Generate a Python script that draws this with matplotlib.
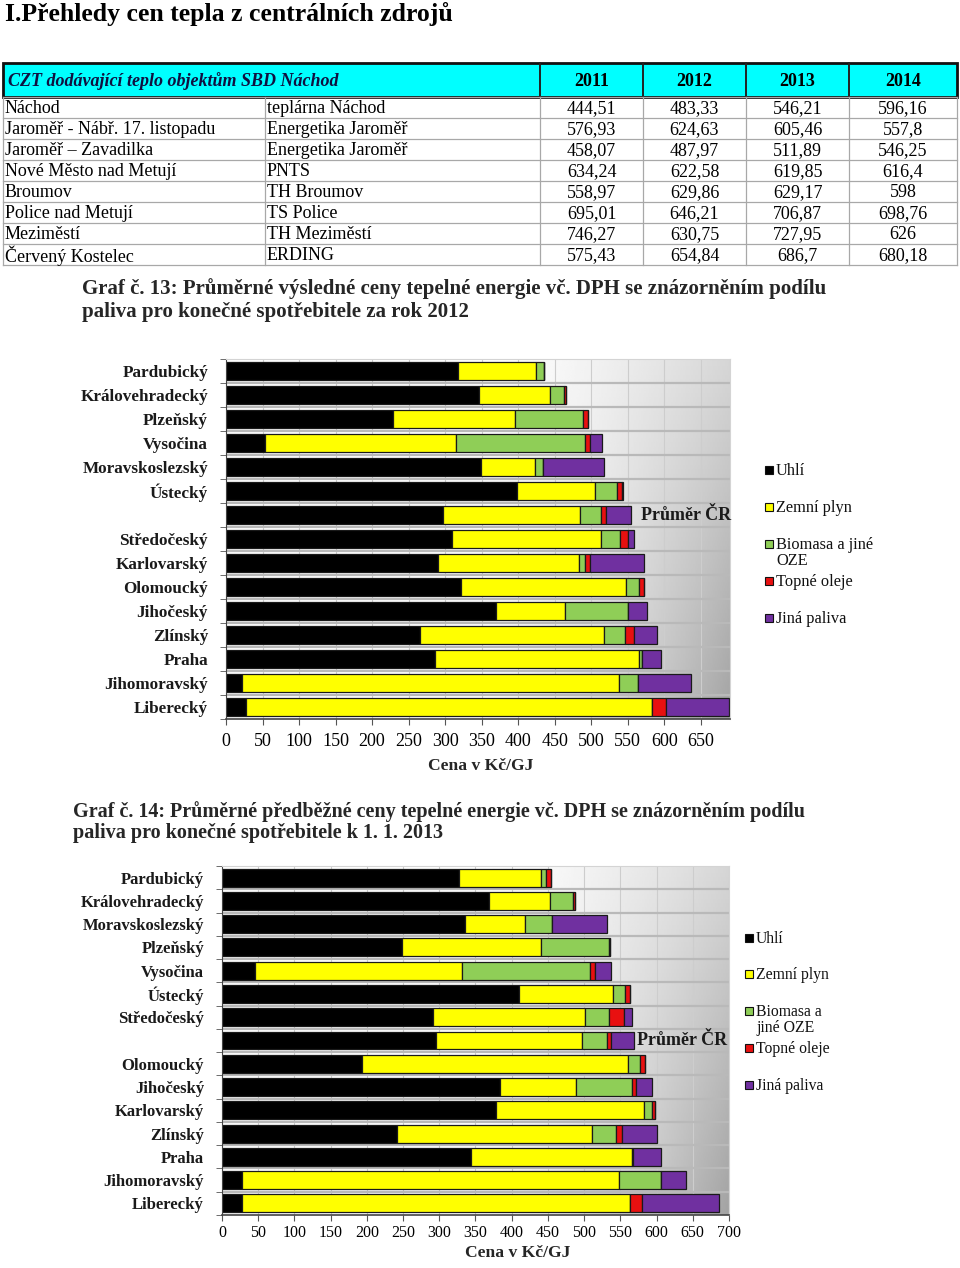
import numpy as np
import matplotlib
matplotlib.use("Agg")
import matplotlib.pyplot as plt
from matplotlib.patches import Rectangle

plt.rcParams["font.family"] = ["Liberation Serif", "DejaVu Serif"]

W, H = 960, 1268

# %% table data
table_places = [
    "Náchod",
    "Jaroměř - Nábř. 17. listopadu",
    "Jaroměř – Zavadilka",
    "Nové Město nad Metují",
    "Broumov",
    "Police nad Metují",
    "Meziměstí",
    "Červený Kostelec",
]
table_sources = [
    "teplárna Náchod",
    "Energetika Jaroměř",
    "Energetika Jaroměř",
    "PNTS",
    "TH Broumov",
    "TS Police",
    "TH Meziměstí",
    "ERDING",
]
table_years = ["2011", "2012", "2013", "2014"]
price_2011 = [444.51, 576.93, 458.07, 634.24, 558.97, 695.01, 746.27, 575.43]
price_2012 = [483.33, 624.63, 487.97, 622.58, 629.86, 646.21, 630.75, 654.84]
price_2013 = [546.21, 605.46, 511.89, 619.85, 629.17, 706.87, 727.95, 686.7]
price_2014 = [596.16, 557.8, 546.25, 616.4, 598, 698.76, 626, 680.18]

# %% chart data (Kč/GJ)
fuels = ["Uhlí", "Zemní plyn", "Biomasa a jiné OZE", "Topné oleje", "Jiná paliva"]
fuel_colors = ["#000000", "#ffff00", "#8fce57", "#e81010", "#7030a0"]

regions_2012 = ["Pardubický", "Královehradecký", "Plzeňský", "Vysočina",
                "Moravskoslezský", "Ústecký", "", "Středočeský", "Karlovarský",
                "Olomoucký", "Jihočeský", "Zlínský", "Praha", "Jihomoravský",
                "Liberecký"]
uhli_2012 = [318, 346, 229, 53, 349, 399, 297, 309, 290, 322, 369, 265, 286, 22, 28]
plyn_2012 = [107, 98, 167, 262, 74, 106, 188, 204, 193, 225, 95, 253, 279, 516, 555]
oze_2012 = [10, 19, 93, 177, 11, 30, 28, 27, 8, 18, 86, 28, 5, 26, 0]
oleje_2012 = [1, 2, 7, 6, 0, 7, 7, 10, 7, 7, 1, 12, 0, 0, 20]
jina_2012 = [0, 1, 0, 17, 83, 2, 34, 9, 74, 0, 26, 32, 25, 73, 86]

regions_2013 = ["Pardubický", "Královehradecký", "Moravskoslezský", "Plzeňský",
                "Vysočina", "Ústecký", "Středočeský", "", "Olomoucký", "Jihočeský",
                "Karlovarský", "Zlínský", "Praha", "Jihomoravský", "Liberecký"]
uhli_2013 = [327, 368, 336, 248, 46, 410, 292, 296, 193, 384, 378, 242, 344, 27, 28]
plyn_2013 = [113, 85, 82, 193, 286, 130, 209, 201, 367, 105, 205, 269, 222, 521, 536]
oze_2013 = [8, 31, 38, 93, 176, 17, 34, 35, 17, 77, 10, 33, 1, 58, 0]
oleje_2013 = [6, 3, 0, 2, 7, 6, 20, 5, 7, 5, 5, 8, 0, 0, 16]
jina_2013 = [0, 0, 76, 0, 22, 0, 11, 32, 0, 22, 0, 49, 39, 34, 106]


def fmt_cz(v):
    return f"{v:g}".replace(".", ",")


def px_axes(fig, left, top, right, bottom):
    return fig.add_axes([left / W, 1 - bottom / H, (right - left) / W, (bottom - top) / H])


def draw_table(page):
    col_x = [3, 265, 540, 643, 746, 849, 957]
    head_top, head_bot = 63, 97
    row_h = 21
    n = len(table_places)
    body_bot = head_bot + n * row_h

    # header
    page.add_patch(Rectangle((col_x[0], head_top), col_x[-1] - col_x[0], head_bot - head_top,
                             facecolor="#00ffff", edgecolor="#111111", lw=2))
    for x in col_x[2:-1]:
        page.plot([x, x], [head_top, head_bot], color="#222222", lw=1.4)
    page.text(8, (head_top + head_bot) / 2 + 1, "CZT dodávající teplo objektům SBD Náchod",
              fontsize=13, fontweight="bold", fontstyle="italic", color="#101040",
              va="center", ha="left")
    for i, yr in enumerate(table_years):
        page.text((col_x[i + 2] + col_x[i + 3]) / 2, (head_top + head_bot) / 2 + 1, yr,
                  fontsize=13, fontweight="bold", va="center", ha="center")

    # body grid
    for r in range(n + 1):
        y = head_bot + r * row_h
        page.plot([col_x[0], col_x[-1]], [y, y], color="#a8a8a8", lw=0.9)
    for x in col_x:
        page.plot([x, x], [head_bot, body_bot], color="#a8a8a8", lw=0.9)

    cols = [price_2011, price_2012, price_2013, price_2014]
    for r in range(n):
        yc = head_bot + r * row_h + row_h / 2 + 1
        page.text(5, yc, table_places[r], fontsize=13, va="center", ha="left")
        page.text(267, yc, table_sources[r], fontsize=13, va="center", ha="left")
        for c, vals in enumerate(cols):
            page.text((col_x[c + 2] + col_x[c + 3]) / 2, yc, fmt_cz(vals[r]),
                      fontsize=13, va="center", ha="center")


def draw_chart(ax, regions, series, xmax, xticks, tick_fs, label_fs, avg_pad):
    n = len(regions)
    y = np.arange(n)

    # background gradient
    gx = np.linspace(0, 1, 300)
    gy = np.linspace(0, 1, 80)
    g = np.clip((gx[None, :] - 0.5) / 0.5, 0, 1) ** 1.4 * (0.45 + 0.55 * gy[:, None])
    img = 1 - 0.36 * g
    ax.imshow(img, cmap="gray", vmin=0, vmax=1, aspect="auto",
              extent=[0, xmax, n - 0.5, -0.5], zorder=0)

    for xt in xticks[1:]:
        ax.axvline(xt, color="#cdcdcd", lw=0.8, zorder=0.5)
    for b in np.arange(n - 1) + 0.5:
        ax.axhline(b, color="#b9b9b9", lw=1.6, zorder=0.6)

    left = np.zeros(n)
    for vals, col in zip(series, fuel_colors):
        vals = np.array(vals, dtype=float)
        ax.barh(y, vals, left=left, height=0.77, color=col, edgecolor="#1a1a1a",
                lw=0.9, zorder=2)
        left += vals

    avg = regions.index("")
    ax.text(left[avg] + avg_pad, avg, "Průměr ČR", fontsize=13, fontweight="bold",
            va="center", ha="left", color="#1a1a1a", zorder=3)

    ax.set_xlim(0, xmax)
    ax.set_ylim(n - 0.5, -0.5)
    ax.set_xticks(xticks)
    ax.set_xticklabels([str(t) for t in xticks], fontsize=tick_fs)
    ax.set_yticks(y)
    ax.set_yticklabels(regions, fontsize=label_fs, fontweight="bold", color="#1a1a1a")
    ax.set_yticks(np.arange(n + 1) - 0.5, minor=True)
    ax.tick_params(axis="y", which="major", length=0, pad=13)
    ax.tick_params(axis="y", which="minor", length=4, color="#555555")
    ax.tick_params(axis="x", length=4, color="#555555")
    for s in ["top", "right"]:
        ax.spines[s].set_color("#d4d4d4")
    ax.spines["left"].set_color("#444444")
    ax.spines["bottom"].set_color("#444444")
    ax.spines["bottom"].set_linewidth(1.2)


def draw_legend(page, x, ys, labels, fs):
    for yy, lab, col in zip(ys, labels, fuel_colors):
        page.add_patch(Rectangle((x, yy - 4), 8, 8, facecolor=col, edgecolor="#111111",
                                 lw=0.8))
        page.text(x + 11, yy - 7, lab, fontsize=fs, va="top", ha="left",
                  linespacing=1.0, color="#111111")


# %%
fig = plt.figure(figsize=(W / 100, H / 100), dpi=100)
page = fig.add_axes([0, 0, 1, 1])
page.set_xlim(0, W)
page.set_ylim(H, 0)
page.axis("off")

page.text(5, 14, "I.Přehledy cen tepla z centrálních zdrojů", fontsize=18.5,
          fontweight="bold", va="center", ha="left")
draw_table(page)

# chart 13
page.text(82, 289, "Graf č. 13: Průměrné výsledné ceny tepelné energie vč. DPH se znázorněním podílu",
          fontsize=15, fontweight="bold", va="center", ha="left", color="#262626")
page.text(82, 312, "paliva pro konečné spotřebitele za rok 2012",
          fontsize=15, fontweight="bold", va="center", ha="left", color="#262626")
ax1 = px_axes(fig, 226, 359, 730, 719)
draw_chart(ax1, regions_2012, [uhli_2012, plyn_2012, oze_2012, oleje_2012, jina_2012],
           690, list(range(0, 651, 50)), 13, 12.3, 14)
ax1.tick_params(axis="x", pad=6)
page.text(481, 766, "Cena v Kč/GJ", fontsize=12.6, fontweight="bold", va="center",
          ha="center", color="#262626")
draw_legend(page, 765, [470, 507, 544, 581, 618],
            ["Uhlí", "Zemní plyn", "Biomasa a jiné\nOZE", "Topné oleje", "Jiná paliva"], 11.8)

# chart 14
page.text(73, 812, "Graf č. 14: Průměrné předběžné ceny tepelné energie vč. DPH se znázorněním podílu",
          fontsize=14.5, fontweight="bold", va="center", ha="left", color="#262626")
page.text(73, 833, "paliva pro konečné spotřebitele k 1. 1. 2013",
          fontsize=14.5, fontweight="bold", va="center", ha="left", color="#262626")
ax2 = px_axes(fig, 222, 866, 729, 1215)
draw_chart(ax2, regions_2013, [uhli_2013, plyn_2013, oze_2013, oleje_2013, jina_2013],
           700, list(range(0, 701, 50)), 11.5, 12, 4)
ax2.tick_params(axis="x", pad=3)
page.text(518, 1253, "Cena v Kč/GJ", fontsize=12.6, fontweight="bold", va="center",
          ha="center", color="#262626")
draw_legend(page, 745, [938, 974, 1011, 1048, 1085],
            ["Uhlí", "Zemní plyn", "Biomasa a\njiné OZE", "Topné oleje", "Jiná paliva"], 11.3)

fig.savefig("out.png", dpi=100)
